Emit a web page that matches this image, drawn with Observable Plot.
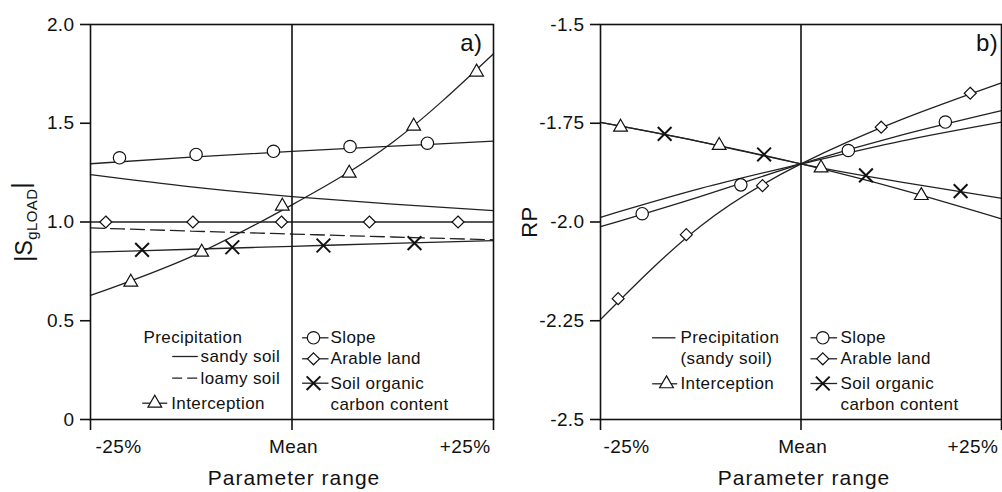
<!DOCTYPE html>
<html><head><meta charset="utf-8">
<script src="https://cdn.jsdelivr.net/npm/d3@7"></script>
<script src="https://cdn.jsdelivr.net/npm/@observablehq/plot@0.6"></script>
<style>
body{margin:0;background:#fff;}
#wrap{display:flex;width:1002px;height:492px;overflow:hidden;}
</style></head><body><div id="wrap"></div>
<script>
// ---------- axes ----------
const xTickValues = [-25, 0, 25];
const xTickLabels = ["-25%", "Mean", "+25%"];
const aYTicks = [0, 0.5, 1, 1.5, 2];
const aYTickLabels = ["0", "0.5", "1.0", "1.5", "2.0"];
const bYTicks = [-2.5, -2.25, -2, -1.75, -1.5];
const bYTickLabels = ["-2.5", "-2.25", "-2.0", "-1.75", "-1.5"];

// ---------- line samples (parameter change, %) ----------
const lineX = [-25, -12.5, 0, 12.5, 25];

// panel a) |S gLOAD|
const aSandy = [1.240, 1.178, 1.129, 1.091, 1.058];
const aLoamy = [0.970, 0.954, 0.939, 0.924, 0.910];
const aSlope = [1.295, 1.328, 1.358, 1.384, 1.409];
const aArable = [1.0, 1.0, 1.0, 1.0, 1.0];
const aInterception = [0.628, 0.825, 1.087, 1.404, 1.852];
const aSOC = [0.847, 0.862, 0.877, 0.892, 0.906];

const aSlopeMarkX = [-21.4, -11.9, -2.3, 7.2, 16.8];
const aSlopeMarkY = [1.325, 1.342, 1.358, 1.382, 1.399];
const aArableMarkX = [-23.1, -12.3, -1.3, 9.6, 20.6];
const aArableMarkY = [1.0, 1.0, 1.0, 1.0, 1.0];
const aInterMarkX = [-20.0, -11.2, -1.2, 7.1, 15.1, 22.9];
const aInterMarkY = [0.695, 0.847, 1.080, 1.247, 1.485, 1.759];
const aSOCMarkX = [-18.6, -7.4, 3.9, 15.2];
const aSOCMarkY = [0.859, 0.872, 0.881, 0.893];

// panel b) RP
const bPrecip = [-1.988, -1.915, -1.853, -1.795, -1.747];
const bSlope = [-2.012, -1.935, -1.853, -1.780, -1.718];
const bArable = [-2.247, -2.010, -1.853, -1.741, -1.648];
const bInterception = [-1.748, -1.797, -1.853, -1.918, -1.992];
const bSOC = [-1.748, -1.797, -1.853, -1.899, -1.940];

const bSlopeMarkX = [-19.8, -7.5, 5.9, 18.0];
const bSlopeMarkY = [-1.979, -1.906, -1.819, -1.747];
const bArableMarkX = [-22.8, -14.3, -4.8, 10.0, 21.1];
const bArableMarkY = [-2.194, -2.032, -1.908, -1.760, -1.674];
const bInterMarkX = [-22.5, -10.2, 2.5, 15.0];
const bInterMarkY = [-1.760, -1.806, -1.863, -1.933];
const bSOCMarkX = [-17.0, -4.6, 8.1, 19.9];
const bSOCMarkY = [-1.777, -1.829, -1.882, -1.922];

// ---------- rendering ----------
const FONT = "'Liberation Sans', Arial, Helvetica, sans-serif";
const INK = "#222";
const FRAME = "#111";

const pts = (xs, ys) => xs.map((x, i) => ({x, y: ys[i]}));

const MARK = {
  circle: {symbol: "circle", r: 6.2, strokeWidth: 1.2},
  diamond: {symbol: "diamond2", r: 5.4, strokeWidth: 1.2},
  triangle: {symbol: "triangle", r: 5.1, strokeWidth: 1.2},
  times: {symbol: "times", r: 6.3, strokeWidth: 2}
};

function segSymbol(parts) {
  return {draw(ctx) { for (const [a, b] of parts) { ctx.moveTo(a, 0); ctx.lineTo(b, 0); } }};
}

function markerDot(data, kind, opts = {}) {
  const m = MARK[kind];
  return Plot.dot(data, {
    symbol: m.symbol, r: m.r, stroke: "#111", strokeWidth: m.strokeWidth,
    fill: kind === "times" ? "none" : "white", ...opts
  });
}

function panel(cfg) {
  const marks = [];
  for (const s of cfg.lines) {
    marks.push(Plot.line(pts(lineX, s.y), {
      x: "x", y: "y", curve: "natural", stroke: INK, strokeWidth: 1.3,
      strokeDasharray: s.dash || null
    }));
  }
  marks.push(Plot.ruleX([0], {stroke: FRAME, strokeWidth: 1.6}));
  marks.push(Plot.frame({stroke: FRAME, strokeWidth: 1.6}));
  for (const m of cfg.markers) marks.push(markerDot(pts(m.x, m.y), m.kind, {x: "x", y: "y"}));

  marks.push(Plot.axisY({
    ticks: cfg.yTicks, tickFormat: d => cfg.yLabels[cfg.yTicks.indexOf(d)],
    tickSize: 10, tickPadding: 6, stroke: FRAME, strokeWidth: 1.6, label: null, fontSize: 19
  }));
  marks.push(Plot.axisX({
    ticks: xTickValues, tickFormat: () => "", tickSize: 11, stroke: FRAME, strokeWidth: 1.6, label: null
  }));
  const tl = xTickValues.map((v, i) => ({v, t: xTickLabels[i]}));
  const anchors = [["start", cfg.xdx[0]], ["middle", cfg.xdx[1]], ["end", cfg.xdx[2]]];
  tl.forEach((d, i) => marks.push(Plot.text([d], {
    x: "v", text: "t", frameAnchor: "bottom", dy: 27, dx: anchors[i][1],
    textAnchor: anchors[i][0], lineAnchor: "middle", fontSize: 19, fill: "#111"
  })));
  marks.push(Plot.text(["Parameter range"], {
    frameAnchor: "bottom", dy: 58.5, dx: cfg.titleDx, fontSize: 21,
    textAnchor: "middle", lineAnchor: "middle", fill: "#111"
  }));
  marks.push(Plot.text([cfg.yTitle], {
    frameAnchor: "left", dx: cfg.yTitleDx, rotate: -90, fontSize: cfg.yTitleSize,
    textAnchor: "middle", lineAnchor: "middle", fill: "#111"
  }));
  marks.push(Plot.text([cfg.tag], {
    frameAnchor: "top-right", dx: cfg.tagDx, dy: 19, fontSize: 24,
    textAnchor: "end", lineAnchor: "middle", fill: "#111"
  }));

  // legend
  for (const it of cfg.legend) {
    if (it.key) {
      marks.push(Plot.dot([0], {
        frameAnchor: "top-left", dx: it.kx, dy: it.dy, symbol: segSymbol(it.key),
        stroke: INK, strokeWidth: 1.3, fill: "none", r: 3
      }));
    }
    if (it.marker) marks.push(markerDot([0], it.marker, {frameAnchor: "top-left", dx: it.mx, dy: it.dy}));
    marks.push(Plot.text([it.label], {
      frameAnchor: "top-left", dx: it.tx, dy: it.dy, fontSize: 17,
      textAnchor: "start", lineAnchor: "middle", fill: "#111"
    }));
  }

  return Plot.plot({
    width: 501, height: 492,
    marginLeft: cfg.marginLeft, marginRight: cfg.marginRight, marginTop: 24, marginBottom: 73,
    x: {domain: [-25, 25]},
    y: {domain: cfg.yDomain},
    style: {fontFamily: FONT, fontSize: "19px", background: "white", color: "#111", letterSpacing: "0.4px", overflow: "visible"},
    marks
  });
}

const keyLine = half => [[-half, half]];

const svgA = panel({
  marginLeft: 90, marginRight: 8, yDomain: [0, 2], yTicks: aYTicks, yLabels: aYTickLabels,
  xdx: [5, 1.5, -3], titleDx: 2, yTitle: "|SgLOAD|", yTitleDx: -66, yTitleSize: 23, tag: "a)", tagDx: -11,
  lines: [{y: aSandy}, {y: aLoamy, dash: "14,6"}, {y: aSlope}, {y: aArable}, {y: aInterception}, {y: aSOC}],
  markers: [
    {x: aSlopeMarkX, y: aSlopeMarkY, kind: "circle"},
    {x: aArableMarkX, y: aArableMarkY, kind: "diamond"},
    {x: aInterMarkX, y: aInterMarkY, kind: "triangle"},
    {x: aSOCMarkX, y: aSOCMarkY, kind: "times"}
  ],
  legend: [
    {label: "Precipitation", tx: 53, dy: 312.7},
    {label: "sandy soil", tx: 110, dy: 332, key: keyLine(12.8), kx: 94.5},
    {label: "loamy soil", tx: 110, dy: 353.7, key: [[-12.8, -2.8], [2.2, 12.2]], kx: 94.5},
    {label: "Interception", tx: 80.7, dy: 378.7, key: keyLine(12.5), kx: 64.2, marker: "triangle", mx: 64.3},
    {label: "Slope", tx: 240, dy: 313.3, key: keyLine(13.2), kx: 224.8, marker: "circle", mx: 223},
    {label: "Arable land", tx: 240, dy: 334.3, key: keyLine(13.2), kx: 224.8, marker: "diamond", mx: 223},
    {label: "Soil organic", tx: 240, dy: 358.7, key: keyLine(13.2), kx: 224.8, marker: "times", mx: 223},
    {label: "carbon content", tx: 240, dy: 380}
  ]
});

const svgB = panel({
  marginLeft: 99, marginRight: 1, yDomain: [-2.5, -1.5], yTicks: bYTicks, yLabels: bYTickLabels,
  xdx: [3, 1.7, -3.3], titleDx: 3, yTitle: "RP", yTitleDx: -71, yTitleSize: 22, tag: "b)", tagDx: -3.3,
  lines: [{y: bPrecip}, {y: bSlope}, {y: bArable}, {y: bInterception}, {y: bSOC}],
  markers: [
    {x: bSlopeMarkX, y: bSlopeMarkY, kind: "circle"},
    {x: bArableMarkX, y: bArableMarkY, kind: "diamond"},
    {x: bInterMarkX, y: bInterMarkY, kind: "triangle"},
    {x: bSOCMarkX, y: bSOCMarkY, kind: "times"}
  ],
  legend: [
    {label: "Precipitation", tx: 80, dy: 313.3, key: keyLine(11.7), kx: 63.3},
    {label: "(sandy soil)", tx: 80, dy: 334.3},
    {label: "Interception", tx: 80, dy: 359.3, key: keyLine(12.5), kx: 64.2, marker: "triangle", mx: 66},
    {label: "Slope", tx: 240, dy: 313.3, key: keyLine(13.3), kx: 223.3, marker: "circle", mx: 222.3},
    {label: "Arable land", tx: 240, dy: 334.3, key: keyLine(13.3), kx: 223.3, marker: "diamond", mx: 222.3},
    {label: "Soil organic", tx: 240, dy: 359, key: keyLine(13.3), kx: 223.3, marker: "times", mx: 222.3},
    {label: "carbon content", tx: 240, dy: 380}
  ]
});

const wrap = document.getElementById("wrap");
wrap.appendChild(svgA);
wrap.appendChild(svgB);

// text tweaks: subscript in the y title, wider spacing in axis titles
for (const svg of [svgA, svgB]) {
  d3.select(svg).selectAll("text").each(function () {
    const t = this.textContent;
    if (t === "Parameter range") d3.select(this).style("letter-spacing", "1px");
    if (t === "|SgLOAD|") {
      const el = d3.select(this);
      el.text(null);
      el.append("tspan").text("|S");
      el.append("tspan").attr("font-size", 15).attr("dy", "0.35em").text("gLOAD");
      el.append("tspan").attr("dy", "-0.35em").text("|");
    }
  });
}
</script></body></html>
